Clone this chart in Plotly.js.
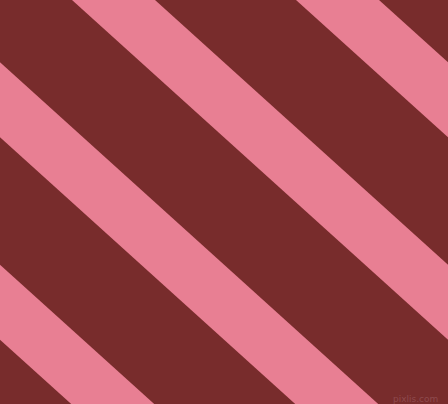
<!DOCTYPE html>
<html>
<head>
<meta charset="utf-8">
<script src="https://cdn.plot.ly/plotly-3.0.1.min.js"></script>
<style>
  html, body { margin: 0; padding: 0; background: #782c2c; }
  #chart { width: 448px; height: 404px; }
</style>
</head>
<body>
<div id="chart"></div>
<script>
// x position (px) of each pink stripe's left edge along the top row
var stripeStarts = [-376, -152, 72, 296]
var stripeWidth = 83      // horizontal width of a pink stripe
var stripeRun = 1.107     // horizontal shift per pixel down
var H = 404, W = 448

var data = stripeStarts.map(function (s) {
  var d = stripeRun * H
  return {
    type: "scatter",
    mode: "lines",
    x: [s, s + stripeWidth, s + stripeWidth + d, s + d, s],
    y: [0, 0, H, H, 0],
    fill: "toself",
    fillcolor: "#e87f93",
    line: { width: 0 },
    hoverinfo: "skip",
    showlegend: false,
  }
})

var layout = {
  width: W,
  height: H,
  margin: { t: 0, r: 0, l: 0, b: 0 },
  paper_bgcolor: "#782c2c",
  plot_bgcolor: "#782c2c",
  xaxis: { range: [0, W], visible: false, fixedrange: true },
  yaxis: { range: [H, 0], visible: false, fixedrange: true },
  annotations: [
    {
      text: "pixlis.com",
      x: 440, y: 399, xref: "x", yref: "y",
      xanchor: "right", yanchor: "middle",
      showarrow: false,
      font: { family: "DejaVu Sans", size: 9, color: "#8e4a4c" },
    },
  ],
}
Plotly.newPlot("chart", data, layout, { staticPlot: true })
</script>
</body>
</html>
